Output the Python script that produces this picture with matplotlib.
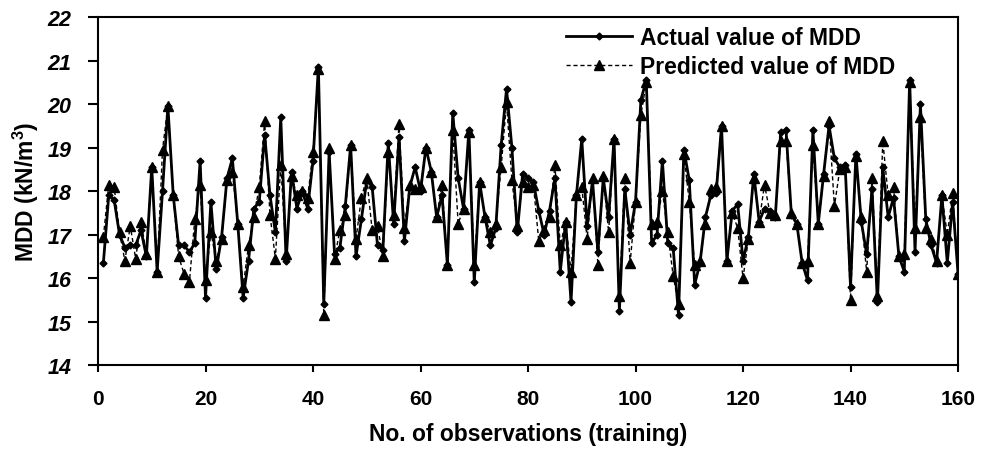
import matplotlib
matplotlib.use("Agg")
import matplotlib.pyplot as plt
import numpy as np

plt.rcParams['font.family'] = ['Liberation Sans', 'DejaVu Sans']
plt.rcParams['mathtext.fontset'] = 'custom'
plt.rcParams['mathtext.rm'] = 'Liberation Sans:bold'
plt.rcParams['mathtext.default'] = 'regular'

observations = list(range(1, 161))

actual_mdd = [
    16.35, 17.9, 17.8, 17.0, 16.7, 16.75, 16.75, 17.1, 16.5, 18.55,
    16.15, 18.0, 19.95, 17.9, 16.75, 16.75, 16.6, 16.8, 18.7, 15.55,
    17.75, 16.2, 16.95, 18.3, 18.75, 17.25, 15.55, 16.4, 17.6, 17.75,
    19.3, 17.9, 17.05, 19.7, 16.4, 18.45, 17.6, 18.0, 17.6, 18.7,
    20.85, 15.4, 18.9, 16.55, 16.7, 17.65, 19.05, 16.5, 17.35, 18.25,
    18.1, 16.75, 16.65, 19.1, 17.25, 19.25, 16.85, 18.1, 18.55, 18.0,
    19.0, 18.45, 17.4, 17.9, 16.3, 19.8, 18.3, 17.6, 19.4, 15.9,
    18.2, 17.4, 16.75, 17.15, 19.05, 20.35, 19.0, 17.05, 18.4, 18.3,
    18.2, 17.55, 17.0, 17.55, 18.3, 16.15, 17.3, 15.45, 17.9, 19.2,
    17.2, 18.25, 16.6, 18.3, 17.4, 19.2, 15.25, 18.05, 17.0, 17.75,
    20.1, 20.55, 16.8, 17.0, 18.7, 16.8, 16.7, 15.15, 18.95, 18.25,
    15.85, 16.35, 17.4, 17.9, 17.95, 19.5, 16.4, 17.55, 17.7, 16.4,
    16.95, 18.4, 17.3, 17.6, 17.55, 17.4, 19.35, 19.4, 17.45, 17.25,
    16.35, 15.95, 19.4, 17.25, 18.4, 19.5, 18.75, 18.55, 18.6, 15.8,
    18.85, 17.3, 16.55, 18.05, 15.45, 18.55, 17.4, 17.85, 16.5, 16.15,
    20.55, 16.6, 20.0, 17.35, 16.75, 16.35, 17.9, 16.35, 17.75, 16.1,
]

predicted_mdd = [
    16.95, 18.15, 18.1, 17.05, 16.4, 17.2, 16.45, 17.3, 16.55, 18.55,
    16.15, 18.95, 19.95, 17.9, 16.5, 16.1, 15.9, 17.35, 18.15, 15.95,
    17.05, 16.4, 16.9, 18.25, 18.45, 17.25, 15.8, 16.75, 17.4, 18.1,
    19.6, 17.45, 16.45, 18.6, 16.55, 18.35, 17.9, 18.0, 17.85, 18.9,
    20.8, 15.15, 19.0, 16.45, 17.1, 17.45, 19.05, 16.9, 17.85, 18.3,
    17.1, 17.2, 16.5, 18.9, 17.45, 19.55, 17.15, 18.15, 18.05, 18.1,
    19.0, 18.45, 17.4, 18.15, 16.3, 19.4, 17.25, 17.6, 19.35, 16.3,
    18.2, 17.4, 17.05, 17.25, 18.55, 20.05, 18.25, 17.2, 18.2, 18.1,
    18.15, 16.85, 17.1, 17.4, 18.6, 16.75, 17.3, 16.15, 17.9, 18.1,
    16.9, 18.3, 16.3, 18.35, 17.05, 19.2, 15.6, 18.3, 16.35, 17.75,
    19.75, 20.5, 17.25, 17.3, 18.0, 17.05, 16.05, 15.4, 18.85, 17.75,
    16.3, 16.4, 17.25, 18.05, 18.1, 19.5, 16.4, 17.5, 17.15, 16.0,
    16.9, 18.3, 17.3, 18.15, 17.5, 17.45, 19.15, 19.15, 17.5, 17.25,
    16.35, 16.4, 19.05, 17.25, 18.35, 19.6, 17.65, 18.5, 18.55, 15.5,
    18.8, 17.4, 16.15, 18.3, 15.6, 19.15, 17.9, 18.1, 16.5, 16.55,
    20.5, 17.15, 19.7, 17.15, 16.9, 16.4, 17.9, 17.0, 17.95, 16.1,
]

x_ticks = [0, 20, 40, 60, 80, 100, 120, 140, 160]
y_ticks = [14, 15, 16, 17, 18, 19, 20, 21, 22]

fig = plt.figure(figsize=(9.83, 4.52), dpi=100)
ax = fig.add_axes([0.0997, 0.190, 0.8749, 0.770])

ax.plot(observations, actual_mdd, color='black', linestyle='-', linewidth=2.0,
        marker='D', markersize=3.5, label='Actual value of MDD', zorder=3)
ax.plot(observations, predicted_mdd, color='black', linestyle=(0, (3, 2)), linewidth=1.0,
        marker='^', markersize=6.5, label='Predicted value of MDD', zorder=2)

ax.set_xlim(0, 160)
ax.set_ylim(14, 22)
ax.set_xticks(x_ticks)
ax.set_yticks(y_ticks)
ax.set_xticklabels([str(v) for v in x_ticks], fontsize=15, fontweight='bold')
ax.set_yticklabels([str(v) for v in y_ticks], fontsize=15.5, fontweight='bold', fontstyle='italic')
ax.tick_params(axis='x', direction='out', length=5, width=1.5, colors='black', pad=12)
ax.tick_params(axis='y', direction='out', length=7, width=1.5, colors='black', pad=12)
for s in ax.spines.values():
    s.set_linewidth(1.5)
    s.set_color('black')

ax.set_xlabel('No. of observations (training)', fontsize=16.5, fontweight='bold', labelpad=10)
ax.set_ylabel(r'MDD (kN/m$^{3}$)', fontsize=16.5, fontweight='bold', labelpad=5)

leg = ax.legend(loc='upper left', bbox_to_anchor=(0.52, 1.035), frameon=False,
                handlelength=2.9, handletextpad=0.35, labelspacing=0.3,
                prop={'size': 16.5, 'weight': 'bold'})

fig.savefig('out.png', dpi=100)
